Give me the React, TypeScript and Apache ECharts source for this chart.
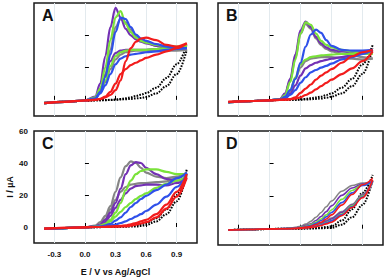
import React, { useEffect, useRef } from 'react';
import * as echarts from 'echarts';

// Potential grid (V vs Ag/AgCl) shared by every branch
const POT = [-0.4, -0.2, 0, 0.1, 0.15, 0.2, 0.25, 0.3, 0.35, 0.4, 0.45, 0.5, 0.55, 0.6, 0.7, 0.8, 0.9, 1.0];

const X_TICKS = [-0.3, 0, 0.3, 0.6, 0.9];
const Y_TICKS = [0, 20, 40];
const Y_LABELS = [0, 20, 40, 60];
const PANEL_LETTERS = ['A', 'B', 'C', 'D'];

// Panel A (µA)
const aDotUp = [-1.8, -1.2, -0.6, -0.3, -0.2, -0.1, 0, 0.2, 0.5, 1, 1.6, 2.4, 3.2, 4.2, 7.5, 13.5, 22, 34];
const aDotDn = [-1.8, -1.2, -0.6, -0.3, -0.2, -0.2, -0.1, 0, 0.2, 0.4, 0.6, 0.9, 1.2, 1.8, 4, 8.5, 16, 31];
const aGrayUp = [-2, -1.2, -0.4, 1.2, 6, 16, 31, 45, 50, 48, 43.5, 39.5, 37, 35.5, 33.5, 32, 31, 31];
const aGrayDn = [-2, -1.2, -0.4, 0.8, 4.5, 11, 19, 25, 28, 29.5, 30, 30.5, 30.5, 30.5, 30.5, 30.5, 30.5, 31];
const aPurpleUp = [-2, -1.2, -0.4, 2, 10, 27, 45, 57, 51, 44, 40, 37.5, 36, 35, 33.5, 33, 32.5, 33];
const aPurpleDn = [-2, -1.2, -0.4, 1, 6, 15, 24, 29, 30.5, 31, 31, 31, 31, 31, 31.5, 32, 32.5, 33];
const aGreenUp = [-2, -1.2, -0.4, 1.5, 7, 20, 37, 51, 55, 47, 42, 38.5, 36.5, 35.5, 34, 33, 33, 33.5];
const aGreenDn = [-2, -1.2, -0.4, 0.8, 5, 12, 21, 27, 29.5, 30.5, 31, 31, 31, 31, 31.5, 32, 32.5, 33.5];
const aBlueUp = [-2, -1.2, -0.4, 1, 5, 14, 28, 42, 51, 50, 45, 40.5, 38, 36.5, 34.5, 33, 32, 32];
const aBlueDn = [-2, -1.2, -0.4, 0.5, 4, 9, 16, 22, 25.5, 27, 28, 28.5, 29, 29.5, 30, 31, 31.5, 32];
const aRedUp = [-2, -1.2, -0.4, 0, 0.5, 1.5, 3, 6, 12, 24, 32, 36, 38, 38.5, 37, 34, 33, 35];
const aRedDn = [-2, -1.2, -0.4, 0, 0.7, 2, 5, 10, 16, 19, 21.5, 23, 24.5, 26, 28, 30, 32, 35];

// Panel B
const bDotUp = [-1.5, -0.8, -0.3, -0.1, 0, 0, 0.1, 0.3, 0.6, 1, 1.5, 2, 3, 4, 7.5, 13, 22, 34];
const bDotDn = [-1.5, -0.8, -0.3, -0.1, -0.1, 0, 0, 0.1, 0.2, 0.4, 0.6, 0.8, 1.3, 2, 4, 8.5, 16, 32];
const bGrayUp = [-1.5, -0.8, -0.3, 0.4, 3.5, 12, 26, 41, 47, 44, 38, 34, 31.5, 30, 28.5, 27.5, 26.5, 25.5];
const bGrayDn = [-1.5, -0.8, -0.3, 0.3, 2, 5.5, 13, 20, 24, 25.5, 26, 26.5, 26.5, 26.5, 26, 25.5, 25, 25.5];
const bPurpleUp = [-1.5, -0.8, -0.3, 0.5, 4, 13, 28, 43, 48.5, 45, 39, 35, 32.5, 31, 30, 29.5, 29.5, 30];
const bPurpleDn = [-1.5, -0.8, -0.3, 0.3, 1.5, 4, 9, 15, 19.5, 21.5, 23, 24, 24.8, 25.5, 26.5, 27.5, 28.5, 30];
const bGreenUp = [-1.5, -0.8, -0.3, 0.4, 3, 11, 25, 41, 48, 46.5, 41, 36.5, 34, 32.5, 31, 30, 29, 28.5];
const bGreenDn = [-1.5, -0.8, -0.3, 0.3, 2, 6, 14, 22, 25, 26.5, 27, 27.5, 27.8, 28, 28.5, 28.5, 28.5, 28.5];
const bBlueUp = [-1.5, -0.8, -0.3, 0.3, 2, 6, 13, 23, 33, 40.5, 43.5, 41.5, 37, 33.5, 31, 30.5, 30.5, 31];
const bBlueDn = [-1.5, -0.8, -0.3, 0.2, 1, 3, 6, 10.5, 14, 17, 18.5, 20, 21, 22.5, 25, 26.5, 28.5, 31];
const bRedUp = [-1.2, -0.8, -0.3, 0, 0.2, 0.5, 1.5, 4.3, 7, 9.5, 12.5, 15, 17, 19, 23, 27, 29.5, 31];
const bRedDn = [-1.2, -0.8, -0.3, 0, 0.1, 0.3, 0.8, 1.5, 3, 4.5, 6.5, 8.5, 10.5, 12.5, 16, 19.5, 24, 30];

// Panel C
const cDotUp = [-1.2, -0.7, -0.3, -0.1, 0, 0, 0.1, 0.2, 0.4, 0.6, 0.8, 1, 1.7, 2.5, 5.5, 11, 20, 36];
const cDotDn = [-1.2, -0.7, -0.3, -0.1, -0.1, 0, 0, 0, 0.1, 0.2, 0.25, 0.3, 0.7, 1.2, 3.5, 8, 16, 33];
const cGrayUp = [-1.2, -0.7, -0.2, 0.8, 3, 7, 13, 22, 31, 38, 41, 40, 37, 34, 31.5, 30.5, 31.5, 34];
const cGrayDn = [-1.2, -0.7, -0.2, 0.5, 1.5, 5, 11, 17, 22, 25, 26.5, 27, 27.5, 27.5, 28, 28.5, 30.5, 34];
const cPurpleUp = [-1.2, -0.7, -0.2, 0.5, 1.5, 4.5, 9, 15, 24, 33, 38.5, 40.5, 40, 37, 33, 30, 29, 30];
const cPurpleDn = [-1.2, -0.7, -0.2, 0.3, 1, 3, 7, 12, 17, 21, 24, 25.5, 26, 26.5, 26.5, 26, 27.5, 30];
const cGreenUp = [-1.2, -0.7, -0.2, 0.2, 0.8, 2, 4.5, 9, 15, 23, 29, 33, 35, 36, 36, 34.5, 33, 33];
const cGreenDn = [-1.2, -0.7, -0.2, 0.1, 0.5, 1.5, 3.5, 6.5, 9.5, 12.5, 15, 17.5, 19.5, 21, 24.5, 27, 29, 32];
const cBlueUp = [-1.2, -0.7, -0.2, 0.1, 0.3, 1, 2, 4, 6, 9, 12.5, 15, 17.5, 19.5, 23, 26.5, 30.5, 34];
const cBlueDn = [-1.2, -0.7, -0.2, 0, 0.2, 0.5, 1, 1.5, 2.5, 3.5, 5, 6.5, 8, 10, 14, 19, 25, 33];
const cRedUp = [-1, -0.6, -0.2, 0, 0, 0.1, 0.3, 0.5, 0.7, 1, 1.7, 2.5, 3.5, 4.5, 8, 14, 22, 33];
const cRedDn = [-1, -0.6, -0.2, 0, 0, 0, 0.1, 0.2, 0.3, 0.3, 0.8, 1.5, 2.2, 3, 6, 11.5, 19, 31];

// Panel D
const dDotUp = [-0.8, -0.5, -0.2, 0, 0, 0, 0, 0.1, 0.2, 0.3, 0.5, 0.7, 1, 1.5, 5, 12, 22, 33];
const dDotDn = [-0.8, -0.5, -0.2, 0, 0, 0, 0, 0, 0.1, 0.1, 0.2, 0.3, 0.4, 0.5, 2.5, 7, 14.5, 30];
const dGrayUp = [-0.8, -0.5, -0.2, 0, 0.1, 0.3, 0.8, 1.5, 2.8, 4.5, 7, 10, 13.5, 17, 23, 26.5, 28, 29];
const dGrayDn = [-0.8, -0.5, -0.2, 0, 0.1, 0.2, 0.4, 0.5, 1, 1.5, 2.5, 3.5, 5, 6.5, 10.5, 15, 21, 29];
const dPurpleUp = [-0.8, -0.5, -0.2, 0, 0.1, 0.2, 0.5, 1, 2, 3, 5, 7.5, 10.5, 14, 20.5, 25, 27.5, 29];
const dPurpleDn = [-0.8, -0.5, -0.2, 0, 0, 0.1, 0.3, 0.5, 0.8, 1.2, 2, 3, 4.5, 6, 10, 14.5, 20.5, 29.5];
const dGreenUp = [-0.8, -0.5, -0.2, 0, 0, 0.2, 0.4, 0.8, 1.5, 2.5, 4, 6, 8.5, 11.5, 18, 23.5, 27, 28];
const dGreenDn = [-0.8, -0.5, -0.2, 0, 0, 0.1, 0.2, 0.4, 0.7, 1, 1.7, 2.5, 3.8, 5, 9, 14, 20, 29];
const dBlueUp = [-0.8, -0.5, -0.2, 0, 0, 0.1, 0.3, 0.6, 1.2, 2, 3.3, 5, 7.3, 10, 16, 22, 26.5, 29];
const dBlueDn = [-0.8, -0.5, -0.2, 0, 0, 0.1, 0.2, 0.3, 0.6, 0.9, 1.5, 2.3, 3.5, 4.8, 8.5, 13.5, 19.5, 29];
const dRedUp = [-0.8, -0.5, -0.2, 0, 0, 0.1, 0.2, 0.5, 1, 1.5, 2.6, 4, 6, 8.5, 14.5, 21, 27, 31];
const dRedDn = [-0.8, -0.5, -0.2, 0, 0, 0, 0.1, 0.2, 0.4, 0.7, 1.2, 2, 3, 4, 8, 13, 19, 30];

// curve order per panel: dotted(blank), gray, purple, green, blue, red
const PANEL_CURVES = [
  [[aDotUp, aDotDn], [aGrayUp, aGrayDn], [aPurpleUp, aPurpleDn], [aGreenUp, aGreenDn], [aBlueUp, aBlueDn], [aRedUp, aRedDn]],
  [[bDotUp, bDotDn], [bGrayUp, bGrayDn], [bPurpleUp, bPurpleDn], [bGreenUp, bGreenDn], [bBlueUp, bBlueDn], [bRedUp, bRedDn]],
  [[cDotUp, cDotDn], [cGrayUp, cGrayDn], [cPurpleUp, cPurpleDn], [cGreenUp, cGreenDn], [cBlueUp, cBlueDn], [cRedUp, cRedDn]],
  [[dDotUp, dDotDn], [dGrayUp, dGrayDn], [dPurpleUp, dPurpleDn], [dGreenUp, dGreenDn], [dBlueUp, dBlueDn], [dRedUp, dRedDn]],
];

const COLORS = ['#000000', '#858585', '#7330b4', '#7ae23a', '#2f50ea', '#f21c1c'];

const GRIDS = [
  { left: 34, top: 3, width: 163, height: 113 },
  { left: 218, top: 3, width: 165, height: 113 },
  { left: 34, top: 131, width: 163, height: 114 },
  { left: 218, top: 131, width: 165, height: 114 },
];

function buildOption() {
  const font = 'Liberation Sans, Arial, sans-serif';
  const grid = GRIDS.map((g) => ({
    ...g,
    show: true,
    borderColor: '#1a1a1a',
    borderWidth: 1.5,
    backgroundColor: 'transparent',
  }));
  const xAxis = GRIDS.map((_, i) => ({
    type: 'value',
    gridIndex: i,
    min: -0.5,
    max: 1.1,
    axisLine: { show: false },
    axisTick: { show: true, inside: true, length: 4, customValues: X_TICKS, lineStyle: { color: '#000', width: 1 } },
    axisLabel: {
      show: i === 2,
      customValues: X_TICKS,
      formatter: (v: number) => v.toFixed(1),
      fontSize: 8,
      fontWeight: 'bold',
      color: '#111',
      fontFamily: font,
      margin: 7,
    },
    splitLine: { show: true, lineStyle: { color: '#e3eaee', width: 1 } },
    name: i === 2 ? 'E / V vs Ag/AgCl' : '',
    nameLocation: 'middle',
    nameGap: 24,
    nameTextStyle: { fontSize: 9, fontWeight: 'bold', color: '#111', fontFamily: font },
  }));
  const yAxis = GRIDS.map((_, i) => ({
    type: 'value',
    gridIndex: i,
    min: -10,
    max: 60,
    axisLine: { show: false },
    axisTick: { show: true, inside: true, length: 4, customValues: Y_TICKS, lineStyle: { color: '#000', width: 1 } },
    axisLabel: {
      show: i === 2,
      customValues: Y_LABELS,
      fontSize: 8,
      fontWeight: 'bold',
      color: '#111',
      fontFamily: font,
      margin: 6,
    },
    splitLine: { show: false },
    name: i === 2 ? 'I / µA' : '',
    nameLocation: 'middle',
    nameRotate: 90,
    nameGap: 20,
    nameTextStyle: { fontSize: 9, fontWeight: 'bold', color: '#111', fontFamily: font },
  }));

  const series: any[] = [];
  PANEL_CURVES.forEach((curves, p) => {
    curves.forEach((pair, k) => {
      pair.forEach((vals) => {
        const dotted = k === 0;
        series.push({
          type: 'line',
          xAxisIndex: p,
          yAxisIndex: p,
          data: POT.map((v, j) => [v, vals[j]]),
          showSymbol: false,
          smooth: 0.35,
          smoothMonotone: 'x',
          silent: true,
          z: 2 + k,
          lineStyle: {
            color: COLORS[k],
            width: dotted ? 2 : p === 3 ? 1.6 : 2.2,
            type: dotted ? [1.6, 1.3] : 'solid',
          },
        });
      });
    });
  });

  const graphic = GRIDS.map((g, i) => ({
    type: 'text',
    left: g.left + 8,
    top: g.top + 4,
    style: { text: PANEL_LETTERS[i], font: `bold 16px ${font}`, fill: '#111' },
    z: 100,
  }));

  return { animation: false, grid, xAxis, yAxis, series, graphic };
}

export default function App() {
  const ref = useRef<HTMLDivElement>(null);
  useEffect(() => {
    const chart = echarts.init(ref.current!, null, { renderer: 'svg' });
    chart.setOption(buildOption() as any);
    return () => chart.dispose();
  }, []);
  return (
    <div
      ref={ref}
      style={{ position: 'absolute', left: 0, top: 0, width: 386, height: 277, background: '#fff' }}
    />
  );
}
